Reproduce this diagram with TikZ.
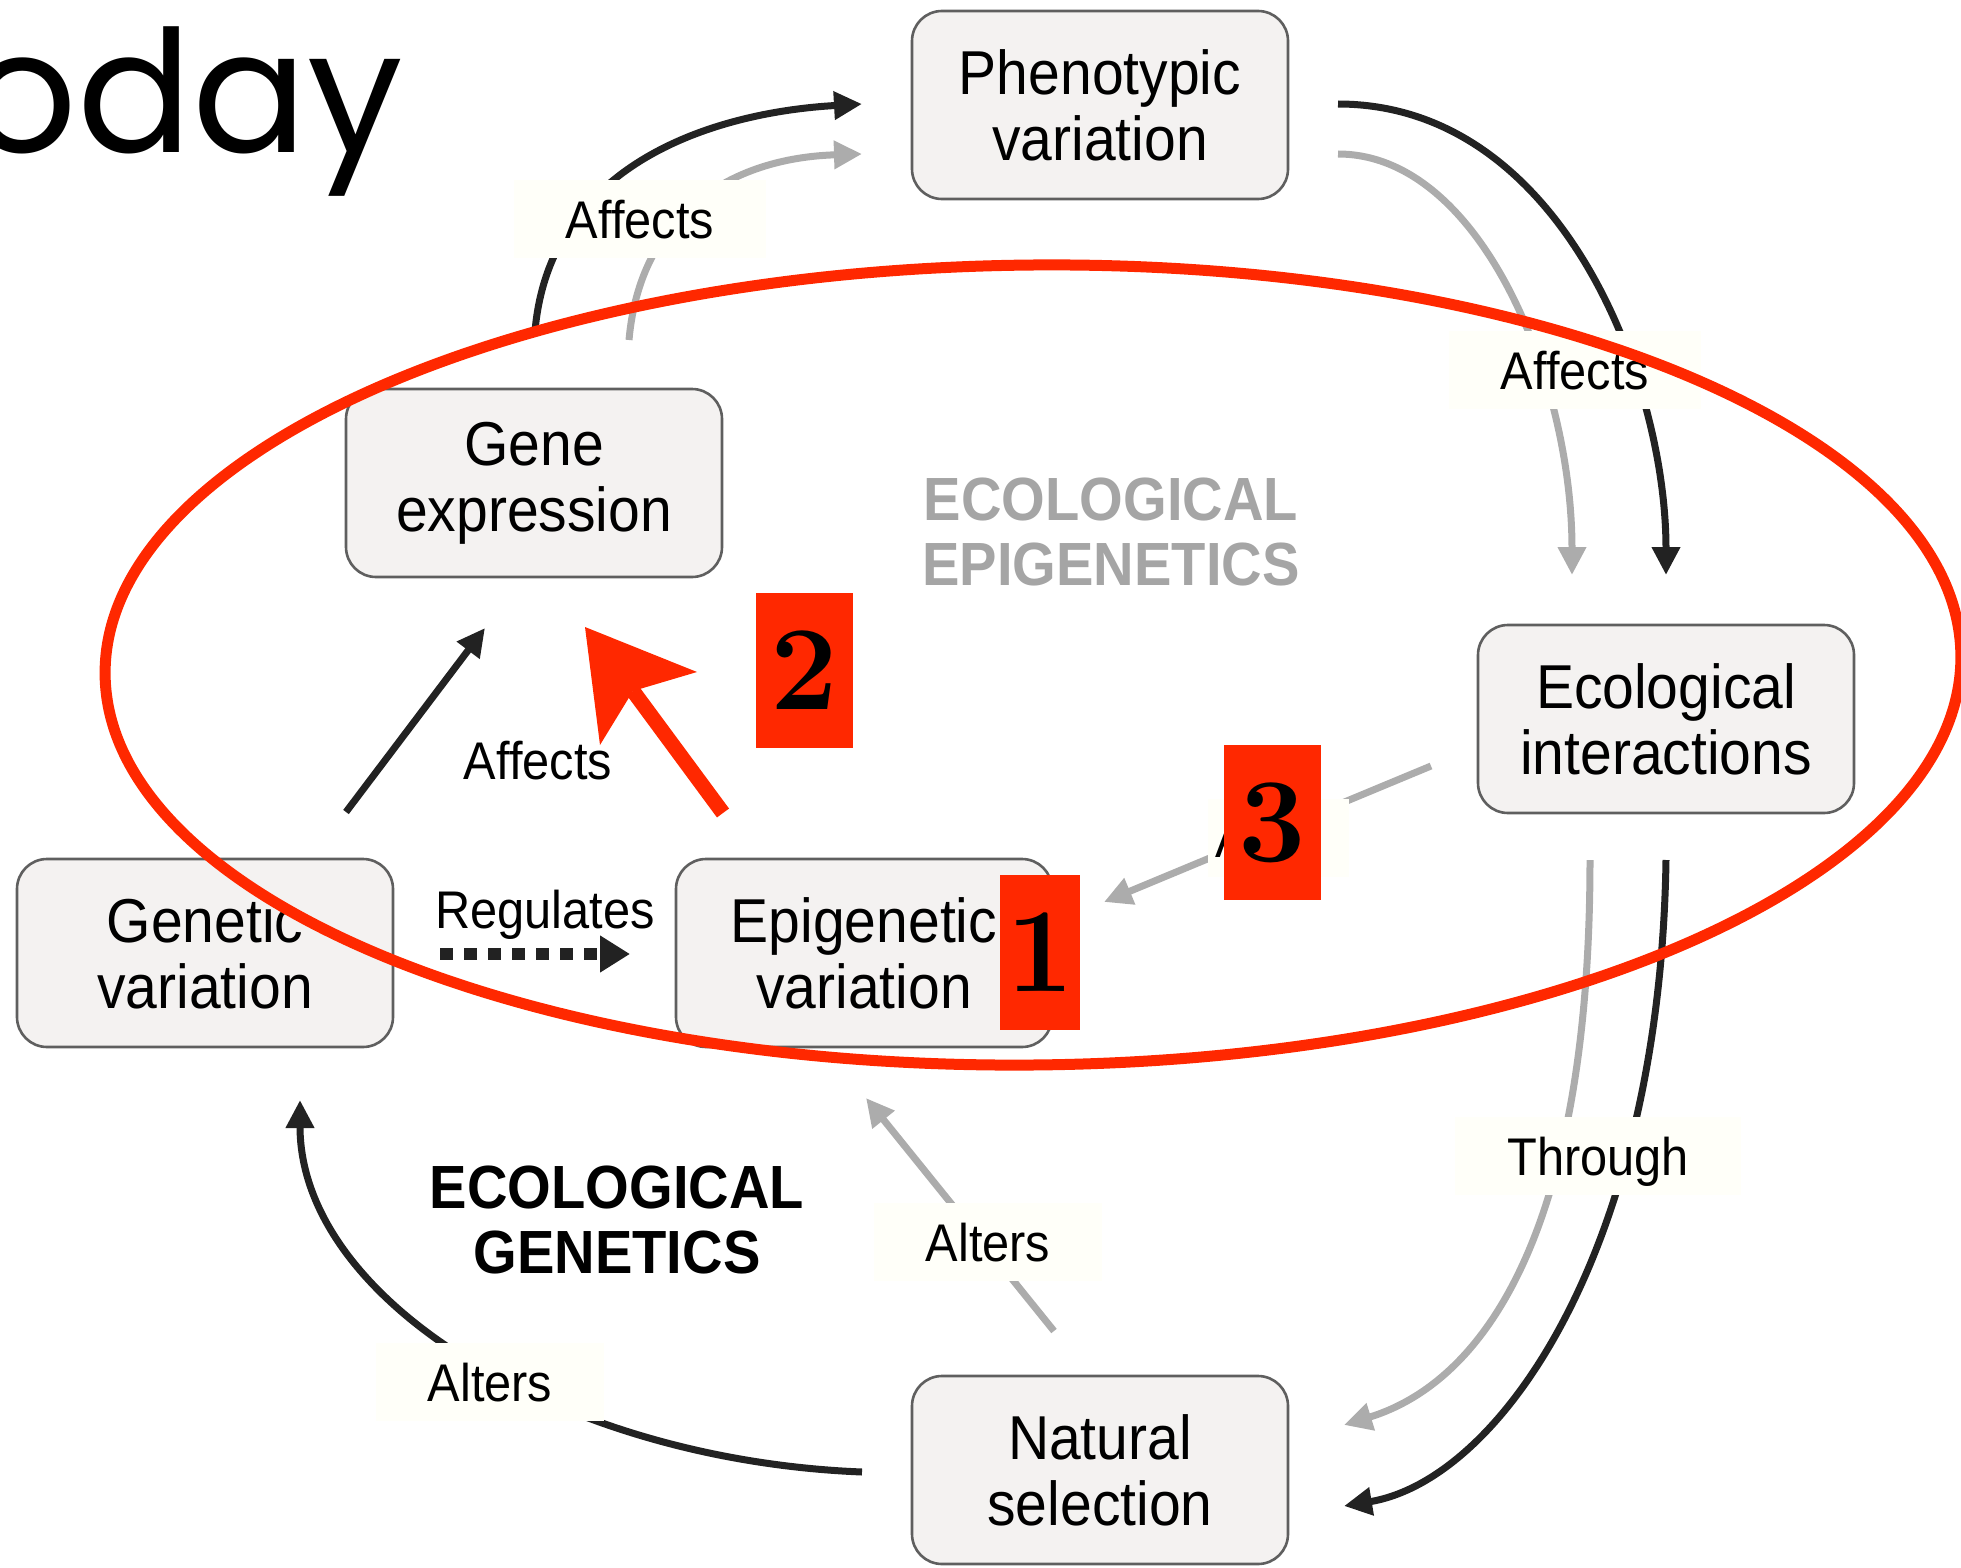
\documentclass[tikz,border=0pt]{standalone}
\usepackage{fontspec}
\newfontfamily\boxfont[FakeStretch=0.92]{Liberation Sans}
\newfontfamily\titlefont{Poppins}
\usetikzlibrary{arrows.meta}
\definecolor{boxfill}{RGB}{244,242,241}
\definecolor{boxdraw}{RGB}{95,95,95}
\definecolor{arrblack}{RGB}{34,34,34}
\definecolor{arrgrey}{RGB}{172,172,172}
\definecolor{redmark}{RGB}{255,40,0}
\definecolor{labelbg}{RGB}{255,255,249}
\definecolor{headgrey}{RGB}{165,165,165}
\begin{document}
\begin{tikzpicture}[x=0.5pt,y=-0.5pt,
  box/.style={draw=boxdraw, line width=1.3pt, fill=boxfill, rounded corners=15pt,
    minimum width=188pt, minimum height=94pt, align=center, inner sep=0pt,
    font=\boxfont\fontsize{31}{33}\selectfont},
  lab/.style={fill=labelbg, inner xsep=26pt, inner ysep=7pt, text height=22pt,
    text depth=3pt, anchor=base, font=\boxfont\fontsize{26.5}{30}\selectfont},
  head/.style={align=center, inner sep=0pt,
    font=\boxfont\bfseries\fontsize{30.5}{32.5}\selectfont},
  blk/.style={draw=arrblack, line width=3.5pt, -{Triangle[length=14pt,width=13.5pt]}},
  gry/.style={draw=arrgrey, line width=3.5pt, -{Triangle[length=14pt,width=13.5pt]}},
  numbox/.style={fill=redmark, inner sep=0pt, minimum height=77.5pt,
    font=\fontsize{60}{60}\selectfont\bfseries},
]
\useasboundingbox (0,0) rectangle (1961,1568);

% title
\node[anchor=base west, inner sep=0pt] (title) at (-32,153)
  {\titlefont\fontsize{85}{85}\selectfont oday};

% boxes
\node[box] (phen) at (1100,105) {Phenotypic\\variation};
\node[box] (gene) at (534,483) {Gene\\expression};
\node[box] (eco) at (1666,719) {Ecological\\interactions};
\node[box] (genv) at (205,953) {Genetic\\variation};
\node[box] (epi) at (864,953) {Epigenetic\\variation};
\node[box] (nat) at (1100,1470) {Natural\\selection};

% headings
\node[head, text=headgrey] (hepi) at (1111,532) {ECOLOGICAL\\EPIGENETICS};
\node[head, text=black] (hgen) at (617,1220) {ECOLOGICAL\\GENETICS};

% connector end points
\coordinate (a1s) at (535,331);  \coordinate (a1e) at (862,104);
\coordinate (b1s) at (629,340);  \coordinate (b1e) at (862,154);
\coordinate (a2s) at (1338,104); \coordinate (a2e) at (1666,575);
\coordinate (b2s) at (1338,154); \coordinate (b2e) at (1572,575);
\coordinate (a3s) at (1666,860); \coordinate (a3e) at (1344,1506);
\coordinate (b3s) at (1590,860); \coordinate (b3e) at (1344,1425);
\coordinate (a4s) at (862,1472); \coordinate (a4e) at (300,1100);
\coordinate (b5s) at (1054,1331); \coordinate (b5e) at (866,1098);
\coordinate (b6s) at (1431,766); \coordinate (b6e) at (1104,902);
\coordinate (a7s) at (346,812);  \coordinate (a7e) at (485,628);
\coordinate (d1) at (440,954);   \coordinate (d2) at (630,954);

% connectors
\draw[blk] (a1s) .. controls (550,160) and (720,112) .. (a1e);
\draw[gry] (b1s) .. controls (640,215) and (730,158) .. (b1e);
\draw[blk] (a2s) .. controls (1560,104) and (1666,380) .. (a2e);
\draw[gry] (b2s) .. controls (1480,154) and (1572,380) .. (b2e);
\draw[blk] (a3s) .. controls (1660,1250) and (1500,1480) .. (a3e);
\draw[gry] (b3s) .. controls (1590,1220) and (1490,1380) .. (b3e);
\draw[blk] (a4s) .. controls (560,1460) and (300,1300) .. (a4e);
\draw[gry] (b5s) -- (b5e);
\draw[gry] (b6s) -- (b6e);
\draw[blk] (a7s) -- (a7e);
\draw[draw=arrblack, line width=6pt, dash pattern=on 6.5pt off 5.5pt,
  -{Triangle[length=15pt,width=17.5pt]}] (d1) -- (d2);

% labels
\node[lab] (laff1) at (640,238) {Affects};
\node[lab] (laff2) at (1575,389) {Affects};
\node[lab, fill=none] (laff3) at (538,779) {Affects};
\node[lab, fill=none] (lreg) at (545,928) {Regulates};
\node[lab] (lalt1) at (988,1261) {Alters};
\node[lab] (lthr) at (1598,1175) {Through};
\node[lab] (lalt2) at (490,1401) {Alters};
\node[lab, inner xsep=4pt] (lalt3) at (1278,857) {Alters};

% red annotations
\draw[redmark, line width=5.5pt, rotate around={0.6:(1033,665)}]
  (1033,665) ellipse [x radius=928, y radius=400];
\coordinate (rt) at (585,627);
\coordinate (rs) at (723,813);
\coordinate (rn) at (633,691);
\draw[redmark, line width=7.5pt] (rs) -- (rn);
\fill[redmark] (rt) -- (600,745) -- (rn) -- (697,672) -- cycle;
\node[numbox, minimum width=48.5pt] (n2) at (804.5,670.5) {2};
\node[numbox, minimum width=48.5pt] (n3) at (1272.5,822.5) {3};
\node[numbox, minimum width=40pt] (n1) at (1040,952) {1};
% background of the hidden label to the right of box 3
\fill[labelbg] (n3.east |- lalt3.north) rectangle (lalt3.south east);
\end{tikzpicture}
\end{document}
